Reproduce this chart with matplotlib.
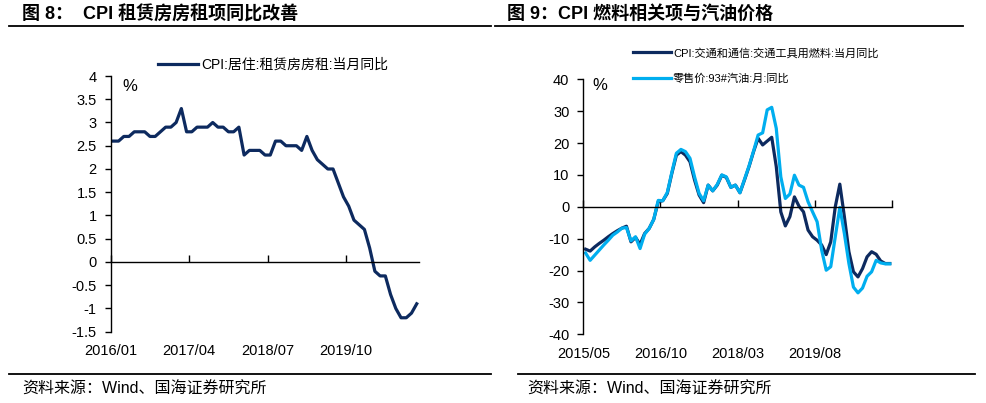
import numpy as np
import matplotlib
matplotlib.use("Agg")
import matplotlib.pyplot as plt

plt.rcParams['font.family'] = ['Liberation Sans', 'Noto Sans CJK SC']
plt.rcParams['axes.unicode_minus'] = False

# left chart: CPI rent yoy, monthly 2016/01 - 2020/11
rent_ticks = ['2016/01', '2017/04', '2018/07', '2019/10']
rent_yoy = [2.6, 2.6, 2.7, 2.7, 2.8, 2.8, 2.8, 2.7, 2.7, 2.8, 2.9, 2.9, 3.0, 3.3, 2.8,
            2.8, 2.9, 2.9, 2.9, 3.0, 2.9, 2.9, 2.8, 2.8, 2.9, 2.3, 2.4, 2.4, 2.4, 2.3,
            2.3, 2.6, 2.6, 2.5, 2.5, 2.5, 2.4, 2.7, 2.4, 2.2, 2.1, 2.0, 2.0, 1.7, 1.4,
            1.2, 0.9, 0.8, 0.7, 0.3, -0.2, -0.3, -0.3, -0.7, -1.0, -1.2, -1.2, -1.1, -0.9]

# right chart: fuel CPI vs gasoline price, monthly 2015/05 - 2020/12
fuel_ticks = ['2015/05', '2016/10', '2018/03', '2019/08', '']
fuel_cpi = [-13.3, -13.9, -12.6, -11.5, -10.5, -9.4, -8.4, -7.5, -6.7, -6.1, -11.0, -9.6,
            -11.8, -8.4, -6.8, -4.0, 1.6, 1.9, 4.2, 10.5, 16.2, 17.3, 16.2, 14.1, 8.4, 3.7,
            1.3, 6.8, 5.0, 6.8, 9.9, 9.2, 6.1, 6.8, 4.4, 8.4, 12.6, 17.3, 21.5, 19.4, 20.6,
            21.8, 12.6, -1.6, -6.0, -3.1, 3.1, 0.2, -1.6, -7.3, -9.4, -10.5, -12.0, -15.0,
            -11.0, 0.0, 7.1, -3.1, -14.1, -20.4, -22.0, -19.4, -15.7, -14.1, -14.9, -17.0,
            -17.8, -17.8]
gasoline = [-14.5, -16.8, -15.2, -13.6, -12.0, -10.5, -8.9, -7.9, -6.7, -6.5, -10.7, -9.4,
            -13.1, -8.6, -6.8, -4.0, 2.0, 1.9, 4.5, 10.8, 16.8, 18.0, 17.3, 15.2, 9.4, 4.2,
            1.9, 6.8, 5.0, 7.0, 10.0, 9.4, 6.1, 6.8, 4.4, 8.6, 12.8, 17.5, 22.5, 23.2, 30.4,
            31.2, 24.6, 9.4, 2.6, 4.0, 9.9, 6.8, 6.1, 1.6, -1.6, -4.7, -13.6, -19.9, -18.8,
            -9.4, -0.2, -8.4, -17.8, -25.2, -27.0, -25.5, -21.8, -20.4, -16.8, -17.6, -17.9,
            -17.9]

navy = '#0d2a5f'
cyan = '#00aeef'

fig = plt.figure(figsize=(9.86, 4.03), dpi=100)


def style_axis(ax, n, step, labels, ylim, yticks, ylabels):
    ax.set_xlim(-0.5, n - 0.5)
    ax.set_ylim(*ylim)
    ax.set_yticks(yticks)
    ax.set_yticklabels(ylabels)
    for s in ['top', 'right']:
        ax.spines[s].set_visible(False)
    ax.spines['bottom'].set_position(('data', 0))
    ax.spines['left'].set_linewidth(1.0)
    ax.spines['bottom'].set_linewidth(1.0)
    ticks = np.arange(-0.5, n, step)
    ax.set_xticks(ticks)
    ax.tick_params(axis='x', direction='in', length=5, width=1, labelbottom=False)
    ax.tick_params(axis='y', direction='out', length=4, width=1, pad=6, labelsize=10.5)
    # date labels sit under the plot, not on the zero line
    sec = ax.secondary_xaxis('bottom')
    sec.set_xticks(ticks)
    sec.set_xticklabels(labels[:len(ticks)])
    sec.spines['bottom'].set_visible(False)
    sec.tick_params(length=0, pad=9, labelsize=10.5)
    ax.patch.set_visible(False)


# left panel
ax1 = fig.add_axes([0.1123, 0.1769, 0.313, 0.6345])
x1 = np.arange(len(rent_yoy))
ax1.plot(x1, rent_yoy, color=navy, lw=2.3, label='CPI:居住:租赁房房租:当月同比')
style_axis(ax1, len(rent_yoy), 15, rent_ticks, (-1.5, 4),
           np.arange(-1.5, 4.01, 0.5),
           ['-1.5', '-1', '-0.5', '0', '0.5', '1', '1.5', '2', '2.5', '3', '3.5', '4'])
ax1.text(0.063, 0.96, '%', transform=ax1.transAxes, fontsize=12, ha='center', va='center')
ax1.legend(loc='center left', bbox_to_anchor=(158 / 986, 1 - 64.7 / 403),
           bbox_transform=fig.transFigure, frameon=False, fontsize=10,
           handlelength=2.9, handletextpad=0.2, borderpad=0, borderaxespad=0)

# right panel
ax2 = fig.add_axes([0.5916, 0.1705, 0.3131, 0.6328])
x2 = np.arange(len(fuel_cpi))
ax2.plot(x2, fuel_cpi, color=navy, lw=2.3, label='CPI:交通和通信:交通工具用燃料:当月同比')
ax2.plot(x2, gasoline, color=cyan, lw=2.3, label='零售价:93#汽油:月:同比')
style_axis(ax2, len(fuel_cpi), 17, fuel_ticks, (-40, 40),
           np.arange(-40, 41, 10), [str(v) for v in range(-40, 41, 10)])
ax2.text(0.054, 0.975, '%', transform=ax2.transAxes, fontsize=12, ha='center', va='center')
ax2.legend(loc='upper left', bbox_to_anchor=(633 / 986, 1 - 47.5 / 403),
           bbox_transform=fig.transFigure, frameon=False, fontsize=8,
           handlelength=3.4, handletextpad=0.2, labelspacing=1.4,
           borderpad=0, borderaxespad=0)

# titles, rules and sources
fig.text(22 / 986, 1 - 14 / 403, '图 8：  CPI 租赁房房租项同比改善', fontsize=13,
         fontweight='bold', va='center', ha='left')
fig.text(507 / 986, 1 - 14 / 403, '图 9：CPI 燃料相关项与汽油价格', fontsize=13,
         fontweight='bold', va='center', ha='left')
fig.add_artist(plt.Line2D([9 / 986, 491 / 986], [1 - 26 / 403] * 2, color='black', lw=1.3))
fig.add_artist(plt.Line2D([495 / 986, 963 / 986], [1 - 26 / 403] * 2, color='black', lw=1.3))
fig.add_artist(plt.Line2D([9 / 986, 491 / 986], [1 - 374 / 403] * 2, color='black', lw=1.3))
fig.add_artist(plt.Line2D([518 / 986, 975 / 986], [1 - 374 / 403] * 2, color='black', lw=1.3))
fig.text(22 / 986, 1 - 389 / 403, '资料来源：Wind、国海证券研究所', fontsize=11.5,
         va='center', ha='left')
fig.text(527 / 986, 1 - 389 / 403, '资料来源：Wind、国海证券研究所', fontsize=11.5,
         va='center', ha='left')

fig.savefig('out.png', dpi=100)
